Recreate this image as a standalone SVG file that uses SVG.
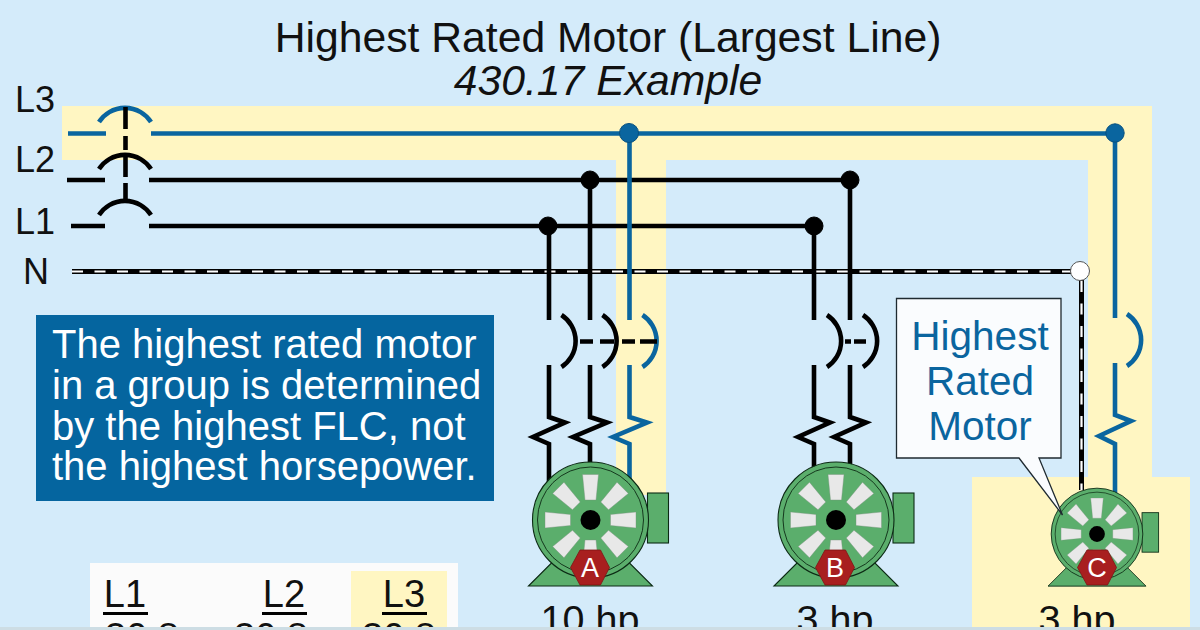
<svg xmlns="http://www.w3.org/2000/svg" xmlns:xlink="http://www.w3.org/1999/xlink" width="1200" height="630" viewBox="0 0 1200 630">
<defs>
<style>
text{font-family:"Liberation Sans",Arial,sans-serif;fill:#111}
.lbl{font-size:36px}
.title{font-size:42.7px;text-anchor:middle}
.hp{font-size:39.5px;text-anchor:middle}
.note{font-size:40px;fill:#fff}
.call{font-size:40.5px;fill:#0a659f;text-anchor:middle}
.tbl{font-size:38px;text-anchor:middle}
.letter{font-size:27px;fill:#fff;text-anchor:middle}
.y{fill:#fff6c2}
.k,.b{fill:none;stroke-width:4.6;stroke-linejoin:miter}
.k{stroke:#000}
.b{stroke:#0a659f}
.nk{fill:none;stroke:#000;stroke-width:5}
.nw{fill:none;stroke:#fff;stroke-width:2.2;stroke-dasharray:11 11.5}
.dk{fill:#000;stroke:#000}
.db{fill:#0a659f;stroke:#07507f}
.hex{fill:#a81f1f;stroke:#7d1515;stroke-width:.8}
</style>
<g id="motorBody" stroke="#0c2a14" stroke-width="1.1">
<rect x="57" y="-27" width="21" height="50" fill="#5bae6c"/>
<path d="M-62 66 L0 4 L62 66Z" fill="#5bae6c"/>
<circle r="58" fill="#5bae6c"/>
<circle r="53" fill="none" stroke-width=".9"/>
<g fill="#e8e8e8" stroke="#77907c" stroke-width=".4">
<path id="blade" d="M-5.500-20H5.500L8-45.500H-8Z"/>
<use xlink:href="#blade" href="#blade" transform="rotate(45)"/>
<use xlink:href="#blade" href="#blade" transform="rotate(90)"/>
<use xlink:href="#blade" href="#blade" transform="rotate(135)"/>
<use xlink:href="#blade" href="#blade" transform="rotate(180)"/>
<use xlink:href="#blade" href="#blade" transform="rotate(225)"/>
<use xlink:href="#blade" href="#blade" transform="rotate(270)"/>
<use xlink:href="#blade" href="#blade" transform="rotate(315)"/>
</g>
<circle r="10" fill="#000" stroke="none"/>
</g>
<path id="hexa" class="hex" d="M-10-17.500H10.500L19.500 0 10.500 17.500H-10L-19.500 0Z"/>
</defs>

<rect width="1200" height="630" fill="#d4ebfa"/>

<g id="highlight">
<rect class="y" x="62" y="106" width="1090" height="54"/>
<rect class="y" x="616" y="160" width="50" height="335"/>
<rect class="y" x="1088" y="160" width="64" height="320"/>
<rect class="y" x="972" y="477" width="218" height="153"/>
</g>

<g id="title">
<text class="title" x="608" y="52">Highest Rated Motor (Largest Line)</text>
<text class="title" x="608" y="95" font-style="italic">430.17 Example</text>
</g>

<g id="line-labels">
<text class="lbl" x="15" y="112">L3</text>
<text class="lbl" x="15" y="172">L2</text>
<text class="lbl" x="15" y="234">L1</text>
<text class="lbl" x="23" y="284">N</text>
</g>

<g id="connectors">
<path class="b" d="M68 133.500H106M151 133.500H1115"/>
<path class="k" d="M67 180H105M149 180H850"/>
<path class="k" d="M71 226H105M149 226H814"/>
<path class="nk" d="M72 271.500H1081.500V490"/>
<path class="nw" d="M72 271.500H1072M1081.500 281V490"/>

<path class="b" d="M99 122A31 31 0 0 1 151 122"/>
<path class="k" d="M99 169A31 31 0 0 1 151 169"/>
<path class="k" d="M99 215A31 31 0 0 1 151 215"/>
<path class="k" d="M125.500 107V129M125.500 136V150M125.500 153V177M125.500 183V200"/>

<path class="k" d="M549 226V320M549 365V417L565 422.500 533 437 549 444V490"/>
<path class="k" d="M590 180V320M590 365V417L607 422.500 573 437 590 444V485"/>
<path class="b" d="M629.500 133V320M629.500 365V417L647 422.500 613 437 629.500 444V490"/>
<path class="k" d="M561.500 315A31 31 0 0 1 561.500 367"/>
<path class="k" d="M602.500 315A31 31 0 0 1 602.500 367"/>
<path class="b" d="M642.500 315A31 31 0 0 1 642.500 367"/>
<path class="k" d="M580 341.500H593M600 341.500H614M622 341.500H635M640 341.500H657"/>

<path class="k" d="M814 226V320M814 365V417L830 422.500 798 437 814 444V490"/>
<path class="k" d="M850 180V320M850 365V417L866 422.500 834 437 850 444V490"/>
<path class="k" d="M827 315A31 31 0 0 1 827 367"/>
<path class="k" d="M863 315A31 31 0 0 1 863 367"/>
<path class="k" d="M845 341.500H851M854 341.500H866"/>

<path class="b" d="M1115 133V318M1115 363V415L1131 421 1099 436 1115 444V495"/>
<path class="b" d="M1127 314A31 31 0 0 1 1127 366"/>

<circle class="db" cx="629" cy="133" r="9.500"/>
<circle class="db" cx="1115" cy="133" r="9.200"/>
<circle class="dk" cx="590" cy="180" r="9"/>
<circle class="dk" cx="850" cy="180" r="9"/>
<circle class="dk" cx="548" cy="226" r="9"/>
<circle class="dk" cx="814" cy="226" r="9"/>
<circle cx="1080" cy="271" r="9.500" fill="#fff" stroke="#555" stroke-width="1"/>
</g>

<g id="note">
<rect x="36" y="315" width="458" height="186" fill="#05659f"/>
<text class="note" x="52" y="358">The highest rated motor</text>
<text class="note" x="52" y="399">in a group is determined</text>
<text class="note" x="52" y="440">by the highest FLC, not</text>
<text class="note" x="52" y="480">the highest horsepower.</text>
</g>

<g id="motor-a">
<use xlink:href="#motorBody" href="#motorBody" transform="translate(590.500 520)"/>
<use xlink:href="#hexa" href="#hexa" transform="translate(590 567.500)"/>
<text class="letter" x="590" y="577">A</text>
<text class="hp" x="590" y="633">10 hp</text>
</g>

<g id="motor-b">
<use xlink:href="#motorBody" href="#motorBody" transform="translate(836 520)"/>
<use xlink:href="#hexa" href="#hexa" transform="translate(835 567.500)"/>
<text class="letter" x="835" y="577">B</text>
<text class="hp" x="835" y="633">3 hp</text>
</g>

<g id="motor-c">
<use xlink:href="#motorBody" href="#motorBody" transform="translate(1097 534) scale(.79)"/>
<use xlink:href="#hexa" href="#hexa" transform="translate(1097 567.500)"/>
<text class="letter" x="1097" y="577">C</text>
<text class="hp" x="1077" y="633">3 hp</text>
</g>

<g id="callout">
<path d="M896.500 298.500H1061V458H1039L1062.500 515 1019 458H896.500Z" fill="#fafcfe" stroke="#1f2a30" stroke-width="1.300"/>
<text class="call" x="980" y="350">Highest</text>
<text class="call" x="980" y="395">Rated</text>
<text class="call" x="980" y="440">Motor</text>
</g>

<g id="table">
<rect x="90" y="563" width="368" height="67" fill="#fbfbfb"/>
<rect class="y" x="351" y="571" width="96" height="59"/>
<text class="tbl" x="125" y="607">L1</text>
<text class="tbl" x="284" y="607">L2</text>
<text class="tbl" x="404" y="607">L3</text>
<rect x="103" y="612" width="45" height="3"/>
<rect x="262" y="612" width="45" height="3"/>
<rect x="382" y="612" width="45" height="3"/>
<text class="tbl" x="142" y="650">30.8</text>
<text class="tbl" x="271" y="650">30.8</text>
<text class="tbl" x="399" y="650">30.8</text>
</g>

<rect id="bottom-edge" x="0" y="627" width="1200" height="3" fill="#cddde4"/>
</svg>
